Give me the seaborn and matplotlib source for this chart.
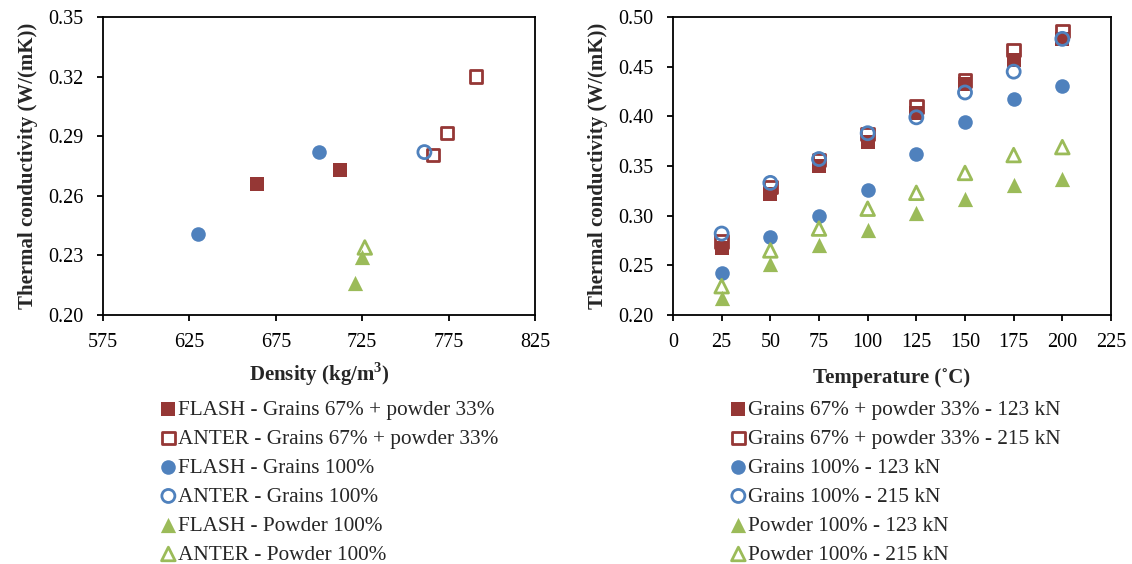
import matplotlib
matplotlib.use("Agg")
import matplotlib.pyplot as plt
import seaborn as sns

# left chart: density vs conductivity
flash_mix_density = [664, 712]
flash_mix_k = [0.266, 0.273]
anter_mix_density = [766, 774, 791]
anter_mix_k = [0.2805, 0.2915, 0.320]
flash_grains_density = [630, 700]
flash_grains_k = [0.241, 0.282]
anter_grains_density = [761]
anter_grains_k = [0.282]
flash_powder_density = [721, 725]
flash_powder_k = [0.216, 0.229]
anter_powder_density = [726.5]
anter_powder_k = [0.234]

# right chart: temperature vs conductivity
temperature = [25, 50, 75, 100, 125, 150, 175, 200]
mix_123 = [0.267, 0.322, 0.350, 0.374, 0.403, 0.433, 0.457, 0.478]
mix_215 = [0.274, 0.329, 0.356, 0.382, 0.410, 0.436, 0.467, 0.486]
grains_123 = [0.242, 0.279, 0.300, 0.326, 0.362, 0.394, 0.417, 0.431]
grains_215 = [0.282, 0.333, 0.357, 0.383, 0.399, 0.424, 0.445, 0.478]
powder_123 = [0.217, 0.251, 0.270, 0.286, 0.303, 0.317, 0.331, 0.337]
powder_215 = [0.229, 0.265, 0.287, 0.307, 0.323, 0.343, 0.361, 0.369]

RED = "#953735"
BLUE = "#4F81BD"
GREEN = "#9BBB59"

sns.set_style("white")
plt.rcParams["font.family"] = ["Liberation Serif", "DejaVu Serif"]
plt.rcParams["mathtext.fontset"] = "custom"
plt.rcParams["mathtext.rm"] = "Liberation Serif"
plt.rcParams["mathtext.bf"] = "Liberation Serif:bold"

fig = plt.figure(figsize=(11.32, 5.64), dpi=100)
ax1 = fig.add_axes([103 / 1132, 1 - 315 / 564, 432 / 1132, 298 / 564])
ax2 = fig.add_axes([673 / 1132, 1 - 315 / 564, 438 / 1132, 298 / 564])


def draw(ax, x, y, marker, color, filled, label, size):
    if filled:
        sns.scatterplot(x=x, y=y, ax=ax, marker=marker, color=color, s=size,
                        linewidth=0, label=label, zorder=3)
    else:
        sns.scatterplot(x=x, y=y, ax=ax, marker=marker, color=color, s=size * 0.8,
                        facecolor="none", edgecolor=color, linewidth=2,
                        label=label, zorder=3)


draw(ax1, flash_mix_density, flash_mix_k, "s", RED, True, "FLASH - Grains 67% + powder 33%", 100)
draw(ax1, anter_mix_density, anter_mix_k, "s", RED, False, "ANTER - Grains 67% + powder 33%", 100)
draw(ax1, flash_grains_density, flash_grains_k, "o", BLUE, True, "FLASH - Grains 100%", 110)
draw(ax1, anter_grains_density, anter_grains_k, "o", BLUE, False, "ANTER - Grains 100%", 110)
draw(ax1, flash_powder_density, flash_powder_k, "^", GREEN, True, "FLASH - Powder 100%", 120)
draw(ax1, anter_powder_density, anter_powder_k, "^", GREEN, False, "ANTER - Powder 100%", 120)

draw(ax2, temperature, mix_123, "s", RED, True, "Grains 67% + powder 33% - 123 kN", 100)
draw(ax2, temperature, mix_215, "s", RED, False, "Grains 67% + powder 33% - 215 kN", 100)
draw(ax2, temperature, grains_123, "o", BLUE, True, "Grains 100% - 123 kN", 110)
draw(ax2, temperature, grains_215, "o", BLUE, False, "Grains 100% - 215 kN", 110)
draw(ax2, temperature, powder_123, "^", GREEN, True, "Powder 100% - 123 kN", 120)
draw(ax2, temperature, powder_215, "^", GREEN, False, "Powder 100% - 215 kN", 120)

ax1.set_xlim(575, 825)
ax1.set_xticks([575, 625, 675, 725, 775, 825])
ax1.set_ylim(0.20, 0.35)
ax1.set_yticks([0.20, 0.23, 0.26, 0.29, 0.32, 0.35])
ax1.set_xlabel("Density (kg/m$^{\\mathbf{3}}$)", fontsize=15, fontweight="bold", labelpad=6)

ax2.set_xlim(0, 225)
ax2.set_xticks(range(0, 226, 25))
ax2.set_ylim(0.20, 0.50)
ax2.set_yticks([0.20, 0.25, 0.30, 0.35, 0.40, 0.45, 0.50])
ax2.set_xlabel("Temperature (˚C)", fontsize=15, fontweight="bold", labelpad=11)

for ax in (ax1, ax2):
    ax.yaxis.set_major_formatter(matplotlib.ticker.FormatStrFormatter("%.2f"))
    ax.set_ylabel("Thermal conductivity (W/(mK))", fontsize=15, fontweight="bold", labelpad=7)
    ax.tick_params(axis="both", direction="out", length=4.3, width=1.3, labelsize=14.5,
                   bottom=True, left=True, colors="black")
    ax.tick_params(axis="y", pad=10)
    ax.tick_params(axis="x", pad=9)
    for sp in ax.spines.values():
        sp.set_visible(True)
        sp.set_color("black")
        sp.set_linewidth(1.3)
    ax.legend_.remove()

h1, l1 = ax1.get_legend_handles_labels()
fig.legend(h1, l1, loc="upper left", bbox_to_anchor=(145 / 1132, 1 - 389 / 564),
           frameon=False, fontsize=15.3, handletextpad=-0.15, labelspacing=0.43,
           borderpad=0, handlelength=1.2)
h2, l2 = ax2.get_legend_handles_labels()
fig.legend(h2, l2, loc="upper left", bbox_to_anchor=(715 / 1132, 1 - 389 / 564),
           frameon=False, fontsize=15.3, handletextpad=-0.15, labelspacing=0.43,
           borderpad=0, handlelength=1.2)

fig.savefig("out.png", dpi=100)
